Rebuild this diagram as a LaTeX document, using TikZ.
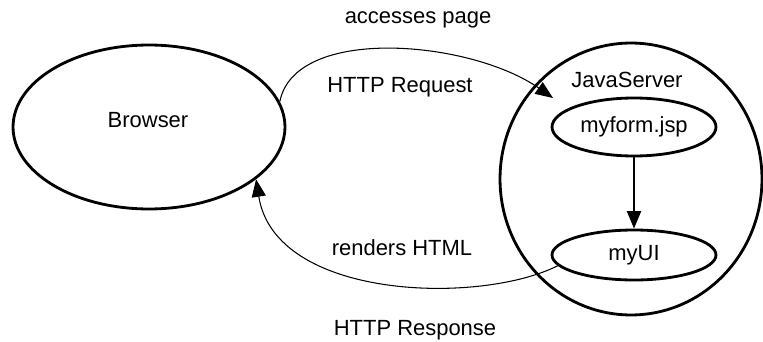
\documentclass[tikz,border=0pt]{standalone}
\usepackage{fontspec}
\setmainfont{Liberation Sans}
\usetikzlibrary{arrows.meta,shapes.geometric,positioning}
\tikzset{
	part/.style={draw, ellipse, line width=1.6pt, inner sep=0pt},
	lbl/.style={font=\fontsize{12.5}{15}\selectfont, inner sep=1pt},
	flow/.style={->, line width=0.6pt},
}

\begin{document}
\begin{tikzpicture}[x=0.02cm, y=-0.02cm, >={Triangle[length=10pt,width=8pt]}, every node/.style={lbl}]
			\useasboundingbox (0,0) rectangle (763,341);
			\node[part, minimum width=5.44cm, minimum height=3.28cm] (browser) at (149, 127) {};
			\node (browserl) at (148, 120) {Browser};
			\node[part, minimum width=5.24cm, minimum height=5.44cm] (server) at (631, 179) {};
			\node (serverl) at (627, 80) {JavaServer};
			\node[part, minimum width=3.28cm, minimum height=1.16cm] (form) at (634, 127) {myform.jsp};
			\node[part, minimum width=3.28cm, minimum height=1.0cm] (ui) at (634, 255) {myUI};
			\coordinate (reqend) at (553, 98);
			\node (accl) at (418, 20) {accesses page};
			\node (reql) at (400, 87) {HTTP Request};
			\node (renl) at (402, 248) {renders HTML};
			\node (resl) at (415, 330) {HTTP Response};
			\draw[->, line width=1.2pt] (form) -- (ui);
			\draw[flow] (browser.11) .. controls (295, 25) and (470, 40) .. (reqend);
			\draw[flow] (ui.188) .. controls (480, 305) and (275, 300) .. (browser.-26);
		\end{tikzpicture}
\end{document}
